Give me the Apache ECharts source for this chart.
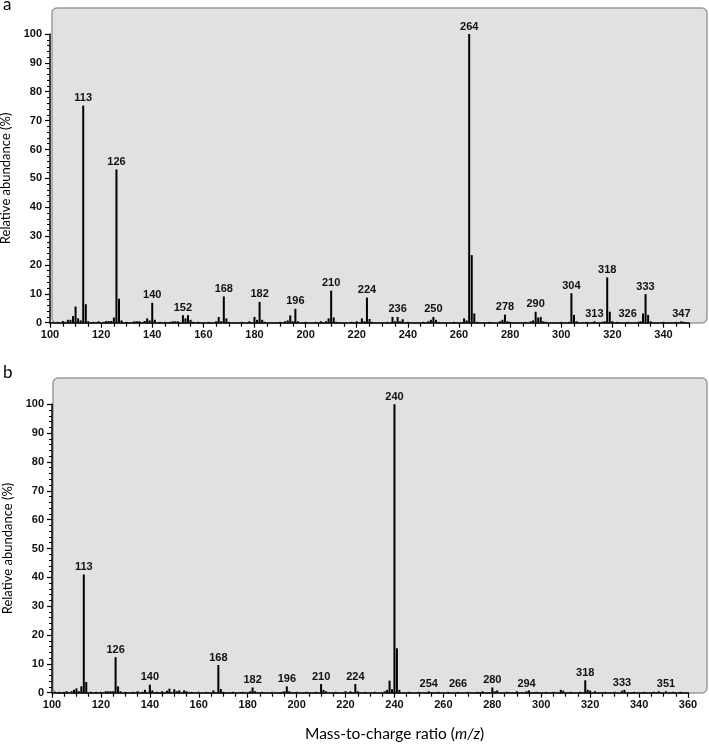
<!DOCTYPE html>
<html>
<head>
<meta charset="utf-8">
<script src="https://cdn.jsdelivr.net/npm/echarts@6/dist/echarts.min.js"></script>
<style>
  html, body { margin: 0; padding: 0; background: #fff; }
  #chart { width: 709px; height: 744px; }
</style>
</head>
<body>
<div id="chart"></div>
<script>
// panel a: m/z and relative abundance (%)
var mzA = [101, 103, 105, 106, 107, 108, 109, 110, 111, 112, 113, 114, 115, 117, 119, 121, 122, 123, 124, 125,
  126, 127, 128, 130, 133, 134, 135, 137, 138, 139, 140, 141, 143, 145, 147, 148, 149, 150, 152, 153,
  154, 155, 156, 158, 162, 165, 166, 167, 168, 169, 170, 175, 178, 180, 181, 182, 183, 184, 190, 192,
  193, 194, 195, 196, 197, 200, 204, 206, 208, 209, 210, 211, 212, 218, 220, 222, 223, 224, 225, 226,
  232, 234, 235, 236, 237, 238, 240, 246, 248, 249, 250, 251, 252, 258, 262, 263, 264, 265, 266, 267,
  272, 276, 277, 278, 279, 280, 286, 288, 289, 290, 291, 292, 293, 294, 300, 303, 304, 305, 306, 310,
  313, 316, 317, 318, 319, 320, 322, 326, 330, 331, 332, 333, 334, 335, 340, 345, 347, 348]
var relA = [0.3, 0.3, 0.6, 0.3, 1.0, 1.0, 2.3, 5.6, 1.5, 0.8, 75.2, 6.4, 0.5, 0.3, 0.5, 0.3, 0.6, 0.6, 0.6, 1.8,
  53.1, 8.3, 0.8, 0.3, 0.5, 0.5, 0.5, 0.6, 1.5, 0.8, 6.9, 1.0, 0.3, 0.3, 0.3, 0.5, 0.5, 0.5, 2.6, 1.5,
  2.6, 1.0, 0.3, 0.3, 0.3, 0.5, 2.0, 0.5, 9.1, 1.5, 0.3, 0.3, 0.5, 2.0, 1.0, 7.2, 1.0, 0.3, 0.3, 0.5,
  0.8, 2.5, 0.5, 4.8, 0.5, 0.3, 0.3, 0.5, 0.5, 1.5, 11.1, 1.8, 0.3, 0.3, 0.5, 1.5, 0.5, 8.7, 1.3, 0.3,
  0.3, 2.0, 0.5, 2.0, 0.5, 1.2, 0.3, 0.3, 0.5, 1.0, 2.0, 1.0, 0.3, 0.3, 1.5, 0.8, 100, 23.4, 3.2, 0.3,
  0.3, 0.5, 1.0, 2.8, 0.5, 0.3, 0.3, 0.5, 0.8, 3.8, 1.8, 2.0, 0.5, 0.3, 0.3, 0.3, 10.2, 2.7, 0.5, 0.3,
  0.5, 0.3, 0.5, 15.7, 3.8, 0.5, 0.3, 0.3, 0.3, 0.5, 3.2, 9.9, 2.7, 0.5, 0.3, 0.3, 0.5, 0.3]
var labelsA = [113, 126, 140, 152, 168, 182, 196, 210, 224, 236, 250, 264, 278, 290, 304, 313, 318, 326, 333, 347]

// panel b
var mzB = [101, 103, 105, 106, 108, 109, 110, 111, 112, 113, 114, 116, 118, 120, 122, 123, 124, 125, 126, 127,
  128, 130, 133, 135, 137, 138, 140, 141, 143, 145, 147, 148, 150, 151, 152, 154, 155, 157, 160, 163,
  166, 168, 169, 170, 174, 178, 181, 182, 183, 186, 190, 194, 195, 196, 197, 200, 204, 208, 210, 211,
  212, 216, 220, 222, 224, 225, 228, 232, 236, 237, 238, 239, 240, 241, 242, 246, 250, 254, 258, 262,
  266, 270, 274, 276, 280, 281, 282, 286, 290, 294, 295, 298, 302, 305, 308, 309, 312, 316, 318, 319,
  320, 322, 326, 330, 333, 334, 338, 342, 346, 348, 351, 354, 357]
var relB = [0.3, 0.3, 0.3, 0.5, 0.5, 1.0, 1.5, 0.5, 2.2, 41.0, 3.7, 0.3, 0.3, 0.3, 0.5, 0.5, 0.5, 0.5, 12.3, 2.2,
  0.5, 0.3, 0.3, 0.5, 0.3, 1.0, 2.8, 0.8, 0.3, 0.5, 0.7, 1.4, 1.2, 0.5, 0.8, 0.8, 0.5, 0.3, 0.3, 0.3,
  0.8, 9.6, 1.3, 0.3, 0.3, 0.3, 0.5, 1.8, 0.5, 0.3, 0.3, 0.3, 0.5, 2.2, 0.5, 0.3, 0.3, 0.3, 3.0, 1.0,
  0.5, 0.3, 0.5, 0.5, 3.0, 0.5, 0.3, 0.3, 0.5, 1.0, 4.2, 1.2, 100, 15.4, 1.0, 0.3, 0.3, 0.5, 0.3, 0.3,
  0.3, 0.3, 0.3, 0.5, 1.8, 0.5, 0.8, 0.3, 0.5, 0.5, 0.8, 0.3, 0.3, 0.3, 1.0, 0.7, 0.3, 0.3, 4.3, 1.0,
  0.7, 0.5, 0.3, 0.3, 0.7, 1.0, 0.3, 0.3, 0.3, 0.5, 0.5, 0.3, 0.3]
var labelsB = [113, 126, 140, 168, 182, 196, 210, 224, 240, 254, 266, 280, 294, 318, 333, 351]

var xRangeA = [100, 350]
var xRangeB = [100, 360]

var chart = echarts.init(document.getElementById('chart'))

var tickFont = { fontFamily: 'Liberation Sans', fontSize: 11, fontWeight: 'bold', color: '#111' }

function buildData (mz, rel, labels) {
  return mz.map(function (m, i) {
    return { value: [m, rel[i]], label: { show: labels.indexOf(m) >= 0 } }
  })
}

function xAxisFor (idx, range) {
  return {
    type: 'value',
    gridIndex: idx,
    min: range[0],
    max: range[1],
    interval: 20,
    axisLine: { lineStyle: { color: '#000', width: 1.5 } },
    axisTick: { length: 5, lineStyle: { color: '#000', width: 1.2 } },
    minorTick: { show: true, splitNumber: 4, length: 4, lineStyle: { color: '#000', width: 1.2 } },
    splitLine: { show: false },
    axisLabel: Object.assign({
      margin: 7,
      formatter: function (v) { return v % 20 === 0 ? String(v) : '' }
    }, tickFont)
  }
}

function yAxisFor (idx) {
  return {
    type: 'value',
    gridIndex: idx,
    min: 0,
    max: 100,
    interval: 10,
    name: 'Relative abundance (%)',
    nameLocation: 'middle',
    nameGap: 35,
    nameTextStyle: { fontFamily: 'Lato', fontSize: 13, color: '#000' },
    axisLine: { show: true, lineStyle: { color: '#000', width: 1.5 } },
    axisTick: { show: true, length: 5, lineStyle: { color: '#000', width: 1.2 } },
    minorTick: { show: true, splitNumber: 5, length: 3, lineStyle: { color: '#000', width: 1 } },
    splitLine: { show: false },
    axisLabel: Object.assign({ margin: 8 }, tickFont)
  }
}

function peakSeries (idx, mz, rel, labels) {
  return {
    type: 'bar',
    xAxisIndex: idx,
    yAxisIndex: idx,
    barWidth: 2,
    itemStyle: { color: '#000' },
    label: {
      position: 'top',
      distance: 2,
      fontFamily: 'Liberation Sans',
      fontSize: 11,
      fontWeight: 'bold',
      color: '#111',
      formatter: function (p) { return p.value[0] }
    },
    silent: true,
    animation: false,
    data: buildData(mz, rel, labels)
  }
}

var option = {
  backgroundColor: '#fff',
  animation: false,
  graphic: [
    { type: 'rect', z: -10, shape: { x: 52, y: 8, width: 655, height: 315, r: 5 },
      style: { fill: '#e1e1e1', stroke: '#9c9c9c', lineWidth: 1.5 } },
    { type: 'rect', z: -10, shape: { x: 53, y: 378, width: 654, height: 315, r: 5 },
      style: { fill: '#e1e1e1', stroke: '#9c9c9c', lineWidth: 1.5 } },
    { type: 'text', left: 3, top: -4, style: { text: 'a', font: '17px Lato', fill: '#000' } },
    { type: 'text', left: 3, top: 364, style: { text: 'b', font: '17px Lato', fill: '#000' } },
    // x-axis title, shared by both panels
    { type: 'text', left: 305, top: 726, style: {
      text: 'Mass-to-charge ratio ({i|m/z})',
      fontFamily: 'Lato', fontSize: 15.5, fill: '#000',
      rich: { i: { fontFamily: 'Lato', fontSize: 15.5, fontStyle: 'italic', fill: '#000' } }
    } }
  ],
  grid: [
    { left: 50, right: 20, top: 34, height: 288.7, containLabel: false, outerBoundsMode: 'none' },
    { left: 52, right: 21, top: 404.3, height: 288.4, containLabel: false, outerBoundsMode: 'none' }
  ],
  xAxis: [xAxisFor(0, xRangeA), xAxisFor(1, xRangeB)],
  yAxis: [yAxisFor(0), yAxisFor(1)],
  series: [peakSeries(0, mzA, relA, labelsA), peakSeries(1, mzB, relB, labelsB)]
}

chart.setOption(option)
</script>
</body>
</html>
